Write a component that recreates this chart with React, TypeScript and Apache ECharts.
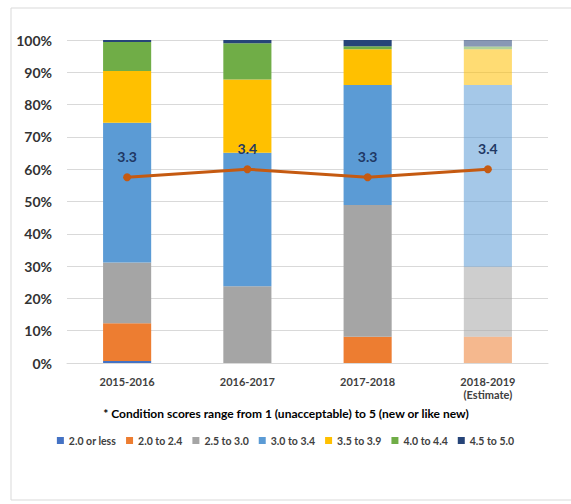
import React, { useEffect, useRef } from "react";
import * as echarts from "echarts";

const categories = ["2015-2016", "2016-2017", "2017-2018", "2018-2019\n(Estimate)"];
const seriesNames = ["2.0 or less", "2.0 to 2.4", "2.5 to 3.0", "3.0 to 3.4", "3.5 to 3.9", "4.0 to 4.4", "4.5 to 5.0"];
const le20 = [0.6, 0, 0, 0];
const s20to24 = [11.7, 0, 8.1, 8.1];
const s25to30 = [18.8, 23.8, 40.8, 21.7];
const s30to34 = [43.3, 41.3, 37.2, 56.3];
const s35to39 = [16.0, 22.7, 11.0, 11.0];
const s40to44 = [9.0, 11.2, 1.0, 0.9];
const s45to50 = [0.6, 1.0, 1.9, 2.0];
const avgScores = [3.3, 3.4, 3.3, 3.4];
const estimateIndex = 3;

const colors = ["#4472C4", "#ED7D31", "#A5A5A5", "#5B9BD5", "#FFC000", "#70AD47", "#264478"];
const FONT = 'Lato, "Open Sans", sans-serif';

export default function App() {
  const ref = useRef<HTMLDivElement>(null);
  useEffect(() => {
    if (!ref.current) return;
    const chart = echarts.init(ref.current, null, { renderer: "svg" });
    const all = [le20, s20to24, s25to30, s30to34, s35to39, s40to44, s45to50];
    const barSeries = all.map((arr, i) => ({
      name: seriesNames[i],
      type: "bar",
      stack: "total",
      barWidth: "40%",
      color: colors[i],
      itemStyle: { color: colors[i] },
      data: arr.map((v, j) =>
        j === estimateIndex ? { value: v, itemStyle: { opacity: 0.55 } } : v
      ),
    }));
    chart.setOption({
      animation: false,
      textStyle: { fontFamily: FONT },
      grid: { left: 67, right: 23, top: 40, bottom: 141 },
      legend: {
        data: seriesNames.map((n, i) => ({ name: n, itemStyle: { color: colors[i] } })),
        top: 430,
        left: "center",
        icon: "rect",
        itemWidth: 7,
        itemHeight: 7,
        itemGap: 10,
        textStyle: { fontFamily: FONT, fontSize: 10.5, fontWeight: "bold", color: "#404040" },
      },
      xAxis: {
        type: "category",
        data: categories,
        axisLine: { lineStyle: { color: "#d9d9d9" } },
        axisTick: { show: false },
        axisLabel: {
          fontFamily: FONT,
          fontSize: 11,
          fontWeight: "bold",
          color: "#404040",
          margin: 12,
          lineHeight: 13,
        },
      },
      yAxis: [
        {
          type: "value",
          min: 0,
          max: 100,
          interval: 10,
          axisLine: { show: false },
          axisTick: { show: false },
          splitLine: { lineStyle: { color: "#d9d9d9" } },
          axisLabel: {
            formatter: "{value}%",
            fontFamily: FONT,
            fontSize: 14,
            fontWeight: "bold",
            color: "#333333",
            margin: 15,
          },
        },
        { type: "value", min: 1, max: 5, show: false },
      ],
      series: [
        ...barSeries,
        {
          name: "Average",
          type: "line",
          yAxisIndex: 1,
          data: avgScores,
          symbol: "circle",
          symbolSize: 8,
          lineStyle: { color: "#C55A11", width: 3 },
          itemStyle: { color: "#C55A11" },
          label: {
            show: true,
            position: "top",
            distance: 10,
            fontFamily: FONT,
            fontSize: 14,
            fontWeight: "bold",
            color: "#1F3864",
            formatter: (p: any) => p.value.toFixed(1),
          },
          z: 10,
        },
      ],
      graphic: [
        {
          type: "rect",
          shape: { x: 11, y: 8, width: 620, height: 492 },
          style: { fill: "none", stroke: "#d9d9d9", lineWidth: 1 },
          silent: true,
        },
        {
          type: "text",
          x: 286,
          y: 413,
          style: {
            text: "* Condition scores range from 1 (unacceptable) to 5 (new or like new)",
            fontFamily: FONT,
            fontSize: 12,
            fontWeight: "bold",
            fill: "#000",
            align: "center",
            verticalAlign: "middle",
          },
        },
      ],
    });
    return () => chart.dispose();
  }, []);
  return (
    <div
      ref={ref}
      style={{ position: "fixed", left: 0, top: 0, width: 571, height: 504, background: "#fff" }}
    />
  );
}
